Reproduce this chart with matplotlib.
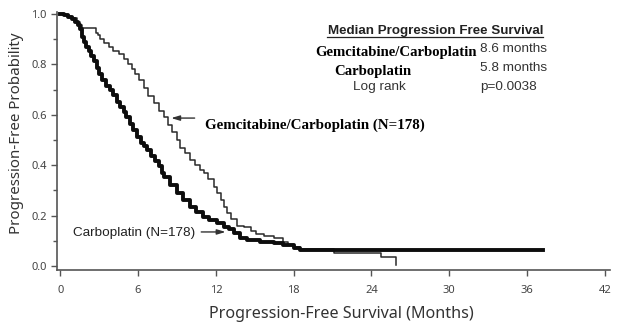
import numpy as np
import matplotlib
matplotlib.use("Agg")
import matplotlib.pyplot as plt
from matplotlib.lines import Line2D

# Kaplan-Meier curves (months, survival)
carbo_t = [0, 0.3, 0.6, 0.9, 1.16, 1.35, 1.54, 1.7, 1.8, 2.0, 2.2, 2.4, 2.6, 2.8, 3.0,
           3.2, 3.5, 3.86, 4.1, 4.4, 4.63, 4.9, 5.1, 5.4, 5.6, 5.9, 6.2, 6.45, 6.7, 7.0,
           7.3, 7.6, 7.85, 8.0, 8.5, 9.0, 9.5, 10.0, 10.5, 11.0, 11.5, 12.1, 12.6, 13.0,
           13.4, 13.9, 14.4, 15.4, 16.5, 17.2, 18.0, 18.5, 37.2]
carbo_s = [1.0, 0.995, 0.99, 0.98, 0.97, 0.955, 0.94, 0.91, 0.89, 0.87, 0.855, 0.835, 0.815, 0.785, 0.76,
           0.74, 0.715, 0.70, 0.68, 0.65, 0.63, 0.61, 0.59, 0.565, 0.54, 0.513, 0.49, 0.475, 0.46, 0.435,
           0.415, 0.395, 0.37, 0.355, 0.32, 0.29, 0.26, 0.235, 0.215, 0.196, 0.183, 0.169, 0.155, 0.148,
           0.13, 0.11, 0.103, 0.096, 0.09, 0.083, 0.07, 0.063, 0.063]

gem_t = [0, 0.4, 0.7, 1.0, 1.3, 1.5, 1.67, 2.75, 2.9, 3.09, 3.4, 3.73, 4.1, 4.5, 4.9, 5.2,
         5.5, 5.8, 6.05, 6.43, 6.8, 7.2, 7.6, 7.98, 8.3, 8.6, 9.0, 9.27, 9.6, 10.04, 10.4,
         10.8, 11.07, 11.4, 11.84, 12.1, 12.36, 12.6, 12.87, 13.2, 13.6, 14.15, 14.7, 15.1,
         15.7, 16.5, 17.2, 17.6, 18.0, 18.5, 21.1, 24.7, 25.9]
gem_s = [1.0, 0.995, 0.99, 0.985, 0.97, 0.955, 0.943, 0.925, 0.915, 0.90, 0.885, 0.87, 0.855, 0.84, 0.82, 0.80,
         0.78, 0.76, 0.74, 0.705, 0.675, 0.645, 0.615, 0.59, 0.56, 0.53, 0.50, 0.47, 0.45, 0.42, 0.40,
         0.38, 0.368, 0.345, 0.315, 0.29, 0.26, 0.235, 0.21, 0.185, 0.16, 0.153, 0.14, 0.125,
         0.118, 0.11, 0.096, 0.085, 0.077, 0.068, 0.05, 0.034, 0.005]

xticks = [0, 6, 12, 18, 24, 30, 36, 42]
yticks = [0.0, 0.2, 0.4, 0.6, 0.8, 1.0]

W, H = 618, 335
fig = plt.figure(figsize=(W / 100, H / 100), dpi=100)
ax = fig.add_axes([57 / W, 65 / H, 553 / W, 258.5 / H])

ax.step(gem_t, gem_s, where="post", color="#2a2a2a", lw=1.1)
ax.step(carbo_t, carbo_s, where="post", color="#0d0d0d", lw=2.8)

ax.set_xlim(-0.25, 42.4)
ax.set_ylim(-0.016, 1.01)
ax.set_xticks(xticks)
ax.set_yticks(yticks)
ax.set_yticks(np.arange(0.1, 1.0, 0.2), minor=True)
ax.set_yticklabels([f"{v:.1f}" for v in yticks])
for s in ["top", "right"]:
    ax.spines[s].set_visible(False)
for s in ["left", "bottom"]:
    ax.spines[s].set_color("#555555")
    ax.spines[s].set_linewidth(1.2)
ax.tick_params(axis="both", which="major", direction="out", length=4, width=1,
               color="#555555", labelcolor="#444444", labelsize=8)
ax.tick_params(axis="y", which="minor", direction="out", length=3, width=1, color="#555555")
ax.tick_params(axis="x", pad=7)

lab_font = "Noto Sans"
ax.set_xlabel("Progression-Free Survival (Months)", fontsize=11.6, family=lab_font,
              color="#333333")
ax.set_ylabel("Progression-Free Probability", fontsize=10.9, family=lab_font,
              color="#333333")
ax.xaxis.set_label_coords(0.514, -0.14)
ax.yaxis.set_label_coords(-0.059, 0.531)
for lbl in ax.get_xticklabels() + ax.get_yticklabels():
    lbl.set_family(lab_font)

# median box
ax.text(28.96, 0.933, "Median Progression Free Survival", ha="center", va="center",
        fontsize=9.6, fontweight="bold", family="Liberation Sans", color="#222222")
fig.add_artist(Line2D([327 / W, 543 / W], [1 - 37 / H, 1 - 37 / H], color="#222222", lw=0.9))
ax.text(19.7, 0.849, "Gemcitabine/Carboplatin", ha="left", va="center",
        fontsize=10.6, fontweight="bold", family="Liberation Serif", color="black")
ax.text(32.36, 0.861, "8.6 months", ha="left", va="center",
        fontsize=9.7, family="Liberation Sans", color="#333333")
ax.text(21.16, 0.77, "Carboplatin", ha="left", va="center",
        fontsize=10.6, fontweight="bold", family="Liberation Serif", color="black")
ax.text(32.36, 0.786, "5.8 months", ha="left", va="center",
        fontsize=9.7, family="Liberation Sans", color="#333333")
ax.text(22.55, 0.71, "Log rank", ha="left", va="center",
        fontsize=9.7, family="Liberation Sans", color="#333333")
ax.text(32.36, 0.71, "p=0.0038", ha="left", va="center",
        fontsize=9.7, family="Liberation Sans", color="#333333")

# curve labels with arrows
ax.text(11.2, 0.56, "Gemcitabine/Carboplatin (N=178)", ha="left", va="center",
        fontsize=10.8, fontweight="bold", family="Liberation Serif", color="black")
ax.annotate("", xy=(8.34, 0.587), xytext=(10.58, 0.587),
            arrowprops=dict(arrowstyle="-|>,head_length=0.5,head_width=0.15",
                            color="#333333", lw=1.0))
ax.text(1.0, 0.131, "Carboplatin (N=178)", ha="left", va="center",
        fontsize=9.7, family="Liberation Sans", color="#222222")
ax.annotate("", xy=(12.97, 0.135), xytext=(10.66, 0.135),
            arrowprops=dict(arrowstyle="-|>,head_length=0.5,head_width=0.15",
                            color="#333333", lw=1.0))

fig.savefig("out.png", dpi=100)
